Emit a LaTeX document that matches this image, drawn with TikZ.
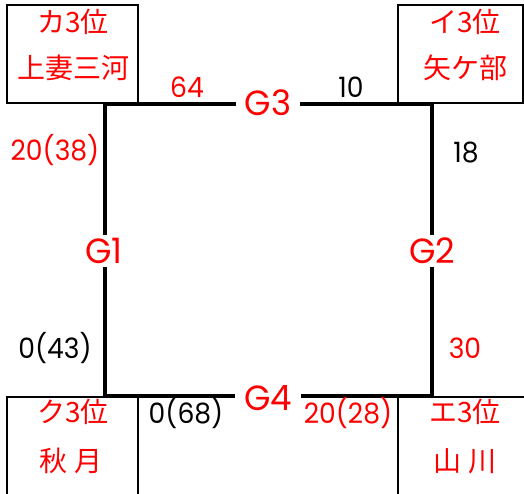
\documentclass[tikz,border=0pt]{standalone}
\usepackage{fontspec}
\usepackage{graphicx}
\setmainfont{Noto Sans CJK JP}
\newfontfamily\latf{Poppins}
\definecolor{jred}{RGB}{255,0,0}
\newcommand\numtxt[1]{{\latf\fontsize{28}{28}\selectfont\scalebox{0.95}[1]{#1}}}
\newcommand\gtxt[1]{{\latf\fontsize{35}{35}\selectfont\scalebox{0.97}[1]{#1}}}
\newcommand\jtxt[1]{{\fontsize{28}{28}\selectfont #1}}
\tikzset{
  sqline/.style={line width=3.5pt},
  boxline/.style={line width=1.3pt},
  glabel/.style={fill=white, text=jred, inner xsep=9pt, inner ysep=3pt},
  rnum/.style={text=jred, inner sep=0pt},
  bnum/.style={text=black, inner sep=0pt},
  jlab/.style={text=jred, inner sep=0pt}
}
\begin{document}
\begin{tikzpicture}[x=1pt,y=-1pt]
\useasboundingbox (0,0) rectangle (524,493);
\clip (0,0) rectangle (524,493);
% boxes
\draw[boxline] (7,5) rectangle (138,103);
\draw[boxline] (398,5) rectangle (523,103);
\draw[boxline] (7,397) rectangle (138,500);
\draw[boxline] (398,397) rectangle (530,500);
% square
\coordinate (tl) at (105,104);
\coordinate (tr) at (432,104);
\coordinate (br) at (432,396);
\coordinate (bl) at (105,396);
\draw[sqline] (tl) -- (tr) -- (br) -- (bl) -- cycle;
% G labels
\node[glabel] (g3) at (268,103) {\gtxt{G3}};
\node[glabel] (g4) at (268,398) {\gtxt{G4}};
\node[glabel, inner xsep=2pt] (g1) at (104,251) {\gtxt{G1}};
\node[glabel, inner xsep=2pt] (g2) at (432,251) {\gtxt{G2}};
% team labels
\node[jlab] (ka) at (73,22) {\jtxt{カ3位}};
\node[jlab] (kan) at (73,68) {\jtxt{上妻三河}};
\node[jlab] (i) at (465,22) {\jtxt{イ3位}};
\node[jlab] (in) at (465,68) {\jtxt{矢ケ部}};
\node[jlab] (ku) at (73,412) {\jtxt{ク3位}};
\node[jlab] (kun) at (71,461) {\jtxt{秋 月}};
\node[jlab] (e) at (465,412) {\jtxt{エ3位}};
\node[jlab] (en) at (465,461) {\jtxt{山 川}};
% scores
\node[rnum] (s64) at (187,87) {\numtxt{64}};
\node[bnum] (s10) at (351,87) {\numtxt{10}};
\node[rnum] (s2038) at (55,150) {\numtxt{20(38)}};
\node[bnum] (s18) at (466,152) {\numtxt{18}};
\node[bnum] (s043) at (55,348) {\numtxt{0(43)}};
\node[rnum] (s30) at (465,348) {\numtxt{30}};
\node[bnum] (s068) at (186,413) {\numtxt{0(68)}};
\node[rnum] (s2028) at (348,413) {\numtxt{20(28)}};
\end{tikzpicture}
\end{document}
